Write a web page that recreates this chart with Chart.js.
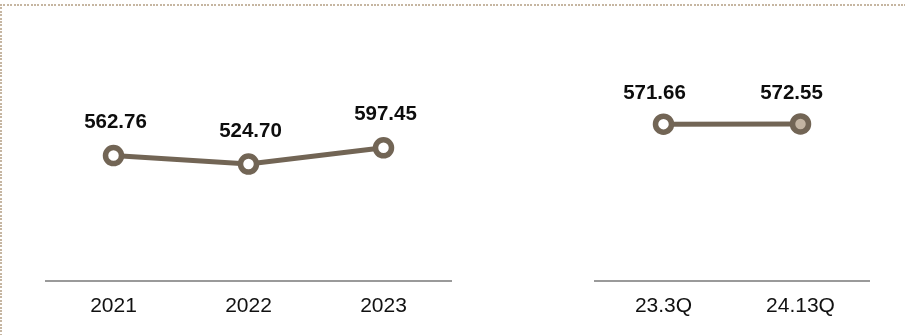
<!DOCTYPE html>
<html>
<head>
<meta charset="utf-8">
<script src="https://cdn.jsdelivr.net/npm/chart.js@4.4.1/dist/chart.umd.min.js"></script>
<style>
  html, body { margin: 0; padding: 0; background: #fff; }
  #wrap { position: relative; width: 905px; height: 335px; overflow: hidden; }
  #bg { position: absolute; left: 0; top: 0; }
  #c1 { position: absolute; left: 0; top: 0; }
  #c2 { position: absolute; left: 560px; top: 0; }
</style>
</head>
<body>
<div id="wrap">
  <canvas id="bg" width="905" height="335"></canvas>
  <canvas id="c1" width="470" height="335"></canvas>
  <canvas id="c2" width="345" height="335"></canvas>
</div>
<script>
const yearLabels = ['2021', '2022', '2023'];
const yearValues = [562.76, 524.70, 597.45];
const quarterLabels = ['23.3Q', '24.13Q'];
const quarterValues = [571.66, 572.55];

const LINE = '#726555';
const FONT = "'Liberation Sans', Arial, sans-serif";

// dotted frame (top and left)
(function () {
  const c = document.getElementById('bg').getContext('2d');
  c.fillStyle = '#c6b6a2';
  for (let i = 0; i * 3.4 < 905; i++) c.fillRect(Math.round(i * 3.4), 4, 2, 2);
  for (let i = 0; 4 + i * 3.4 < 335; i++) c.fillRect(0, Math.round(4 + i * 3.4), 2, 2);
})();

const valueLabels = {
  id: 'valueLabels',
  afterDatasetsDraw(chart, args, opts) {
    const ctx = chart.ctx;
    const meta = chart.getDatasetMeta(0);
    const data = chart.data.datasets[0].data;
    ctx.save();
    ctx.font = 'bold 20.5px ' + FONT;
    ctx.fillStyle = '#0d0d0d';
    ctx.textAlign = 'center';
    ctx.textBaseline = 'middle';
    meta.data.forEach((pt, i) => {
      ctx.fillText(data[i].toFixed(2), pt.x + opts.dx, pt.y + opts.dy);
    });
    ctx.restore();
  }
};

function makeChart(id, labels, values, yMax, padL, padR, fills, dx, dy) {
  return new Chart(document.getElementById(id), {
    type: 'line',
    data: {
      labels: labels,
      datasets: [{
        data: values,
        borderColor: LINE,
        borderWidth: 5,
        tension: 0,
        pointRadius: 8,
        pointHoverRadius: 8,
        pointBorderWidth: 5.5,
        pointBorderColor: LINE,
        pointBackgroundColor: fills,
        clip: false
      }]
    },
    options: {
      responsive: false,
      animation: false,
      events: [],
      layout: { padding: { left: padL, right: padR, top: 10, bottom: 0 } },
      plugins: {
        legend: { display: false },
        tooltip: { enabled: false },
        valueLabels: { dx: dx, dy: dy }
      },
      scales: {
        y: { display: false, min: 0, max: yMax },
        x: {
          offset: true,
          afterFit: s => { s.height = 54; },
          grid: { display: false, drawTicks: false },
          border: { display: true, color: '#9a9a9a', width: 2 },
          ticks: { color: '#111', font: { family: FONT, size: 21 }, padding: 13, maxRotation: 0 }
        }
      }
    },
    plugins: [valueLabels]
  });
}

makeChart('c1', yearLabels, yearValues, 1200, 46, 19, ['#ffffff', '#ffffff', '#ffffff'], 2, -33);
makeChart('c2', quarterLabels, quarterValues, 975, 35, 36, ['#ffffff', '#c3b4a2'], -9, -31);
</script>
</body>
</html>
